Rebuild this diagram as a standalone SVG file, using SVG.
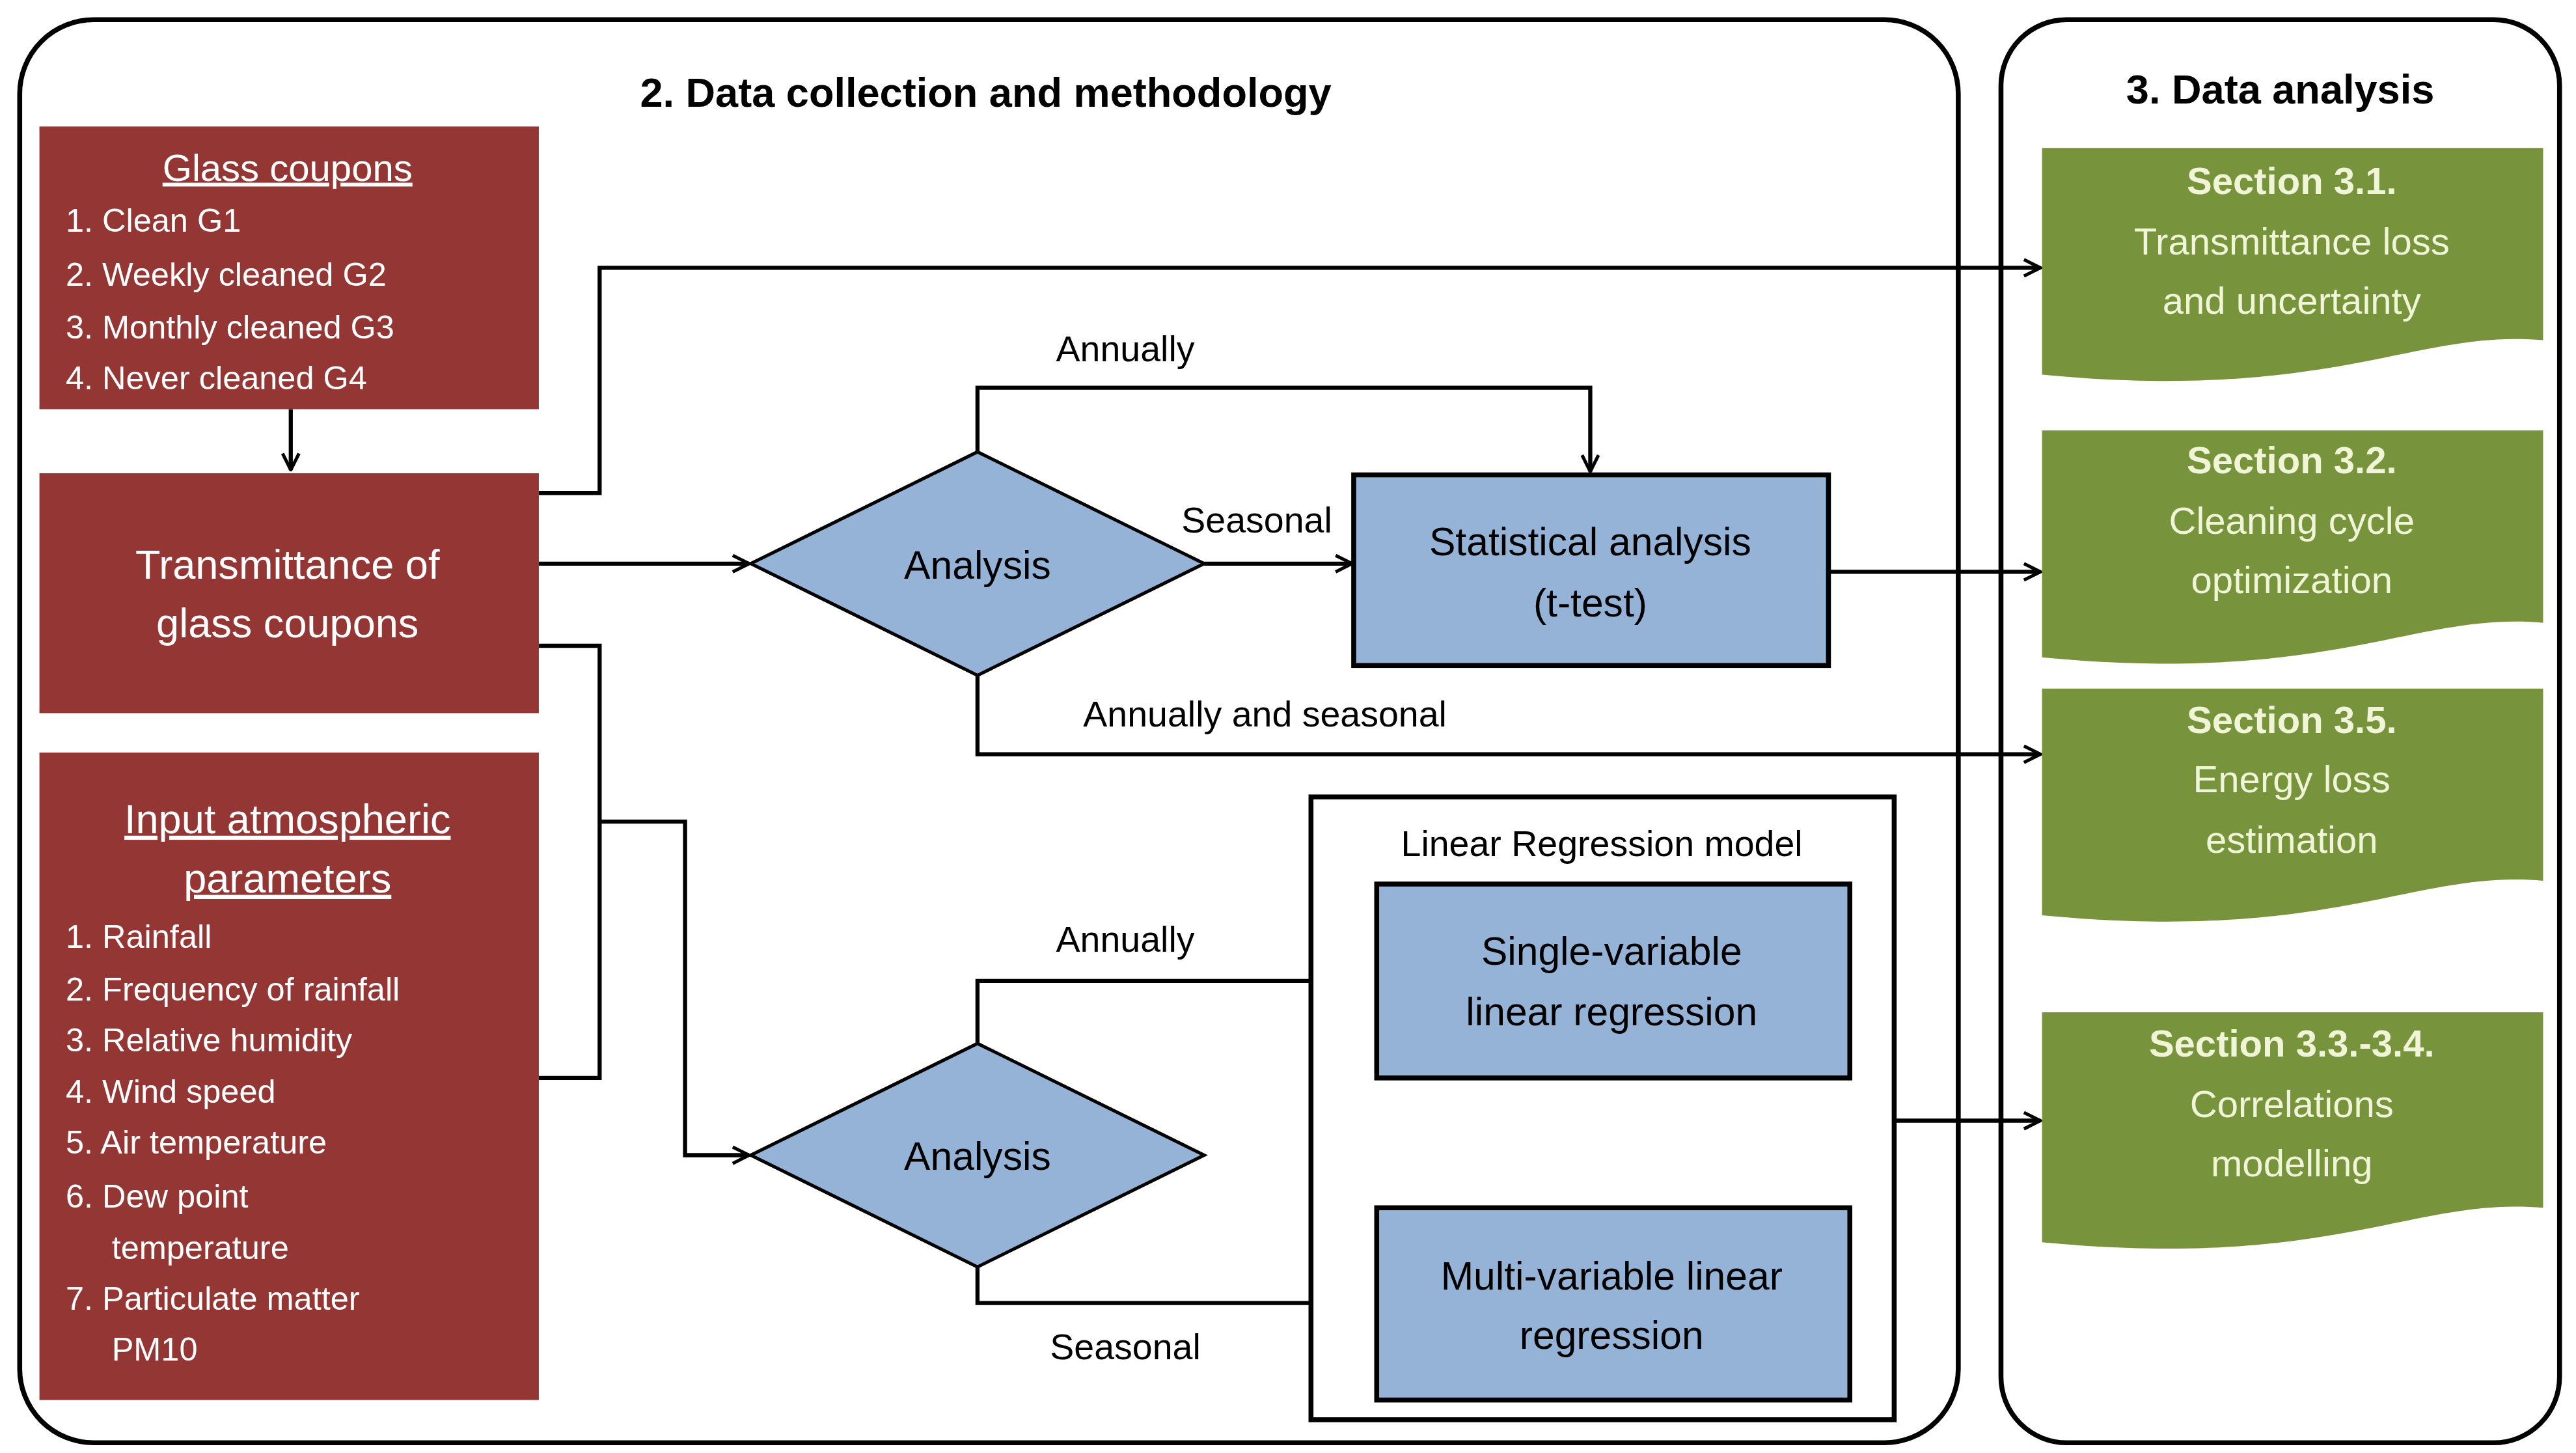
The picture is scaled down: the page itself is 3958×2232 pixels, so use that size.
<svg xmlns="http://www.w3.org/2000/svg" width="3958" height="2232" viewBox="0 0 3958 2232">
<defs>
<marker id="a" viewBox="0 0 12 12" refX="11" refY="6" markerWidth="12" markerHeight="12" markerUnits="userSpaceOnUse" orient="auto"><polyline points="1,1 11,6 1,11" fill="none" stroke="#000" stroke-width="2"/></marker>
<style>
text{font-family:"Liberation Sans",Arial,sans-serif}
.t{font-size:22px;fill:#000;text-anchor:middle}
.h{font-size:25px;font-weight:bold;fill:#000;text-anchor:middle}
.r{fill:#943634}
.w{fill:#fff;font-size:20px}
.wc{fill:#fff;font-size:23px;text-anchor:middle}
.b{fill:#95B3D7;stroke:#000;stroke-width:3}
.d{fill:#95B3D7;stroke:#000;stroke-width:2}
.g{fill:#77933C}
.gt{fill:#F0F5D8;font-size:23px;text-anchor:middle}
.gb{fill:#F0F5D8;font-size:23px;font-weight:bold;text-anchor:middle}
.c{fill:none;stroke:#000;stroke-width:2.5}
</style>
</defs>
<rect width="3958" height="2232" fill="#fff"/>
<g transform="scale(2.5242)">
<g id="frames">
<rect x="12" y="12" width="1180" height="866" rx="45" fill="none" stroke="#000" stroke-width="3"/>
<rect x="1218" y="12" width="340" height="866" rx="40" fill="none" stroke="#000" stroke-width="3"/>
<text class="h" x="600" y="65">2. Data collection and methodology</text>
<text class="h" x="1388" y="63">3. Data analysis</text>
</g>
<g id="connectors">
<path class="c" d="M177,249 V286" marker-end="url(#a)"/>
<path class="c" d="M328,300 H365 V163 H1242" marker-end="url(#a)"/>
<path class="c" d="M328,343 H456" marker-end="url(#a)"/>
<path class="c" d="M595,275 V236 H968 V287" marker-end="url(#a)"/>
<path class="c" d="M733,343 H823" marker-end="url(#a)"/>
<path class="c" d="M1113,348 H1242" marker-end="url(#a)"/>
<path class="c" d="M595,411 V459 H1242" marker-end="url(#a)"/>
<path class="c" d="M328,393 H365 V656 H328"/>
<path class="c" d="M365,500 H417 V703 H456" marker-end="url(#a)"/>
<path class="c" d="M595,635 V597 H836" marker-end="url(#a)"/>
<path class="c" d="M595,771 V793 H836" marker-end="url(#a)"/>
<path class="c" d="M1153,682 H1242" marker-end="url(#a)"/>
<text class="t" x="685" y="220">Annually</text>
<text class="t" x="765" y="324">Seasonal</text>
<text class="t" x="770" y="442">Annually and seasonal</text>
<text class="t" x="685" y="579">Annually</text>
<text class="t" x="685" y="827">Seasonal</text>
</g>
<g id="glass">
<rect class="r" x="24" y="77" width="304" height="172"/>
<text class="wc" x="175" y="110" text-decoration="underline">Glass coupons</text>
<text class="w" x="40" y="141">1. Clean G1</text>
<text class="w" x="40" y="174">2. Weekly cleaned G2</text>
<text class="w" x="40" y="206">3. Monthly cleaned G3</text>
<text class="w" x="40" y="237">4. Never cleaned G4</text>
</g>
<g id="transmittance">
<rect class="r" x="24" y="288" width="304" height="146"/>
<text class="wc" x="175" y="352" style="font-size:25px">Transmittance of</text>
<text class="wc" x="175" y="388" style="font-size:25px">glass coupons</text>
</g>
<g id="input">
<rect class="r" x="24" y="458" width="304" height="394"/>
<text class="wc" x="175" y="507" style="font-size:25px" text-decoration="underline">Input atmospheric</text>
<text class="wc" x="175" y="543" style="font-size:25px" text-decoration="underline">parameters</text>
<text class="w" x="40" y="577">1. Rainfall</text>
<text class="w" x="40" y="609">2. Frequency of rainfall</text>
<text class="w" x="40" y="640">3. Relative humidity</text>
<text class="w" x="40" y="671">4. Wind speed</text>
<text class="w" x="40" y="702">5. Air temperature</text>
<text class="w" x="40" y="735">6. Dew point</text>
<text class="w" x="68" y="766">temperature</text>
<text class="w" x="40" y="797">7. Particulate matter</text>
<text class="w" x="68" y="828">PM10</text>
</g>
<g id="analysis1">
<polygon class="d" points="457,343 595,275 733,343 595,411"/>
<text class="t" x="595" y="352" style="font-size:24px">Analysis</text>
</g>
<g id="stats">
<rect class="b" x="824" y="289" width="289" height="116"/>
<text class="t" x="968" y="338" style="font-size:24px">Statistical analysis</text>
<text class="t" x="968" y="375" style="font-size:24px">(t-test)</text>
</g>
<g id="analysis2">
<polygon class="d" points="457,703 595,635 733,703 595,771"/>
<text class="t" x="595" y="712" style="font-size:24px">Analysis</text>
</g>
<g id="lr">
<rect x="798" y="485" width="355" height="379" fill="#fff" stroke="#000" stroke-width="3"/>
<text class="t" x="975" y="521">Linear Regression model</text>
</g>
<g id="single">
<rect class="b" x="838" y="538" width="288" height="118"/>
<text class="t" x="981" y="587" style="font-size:24px">Single-variable</text>
<text class="t" x="981" y="624" style="font-size:24px">linear regression</text>
</g>
<g id="multi">
<rect class="b" x="838" y="735" width="288" height="117"/>
<text class="t" x="981" y="785" style="font-size:24px">Multi-variable linear</text>
<text class="t" x="981" y="821" style="font-size:24px">regression</text>
</g>
<g id="s31">
<path class="g" d="M1243,90 H1548 V207 C1470,200 1420,245 1243,228 Z"/>
<text class="gb" x="1395" y="118">Section 3.1.</text>
<text class="gt" x="1395" y="155">Transmittance loss</text>
<text class="gt" x="1395" y="191">and uncertainty</text>
</g>
<g id="s32">
<path class="g" d="M1243,262 H1548 V379 C1470,372 1420,417 1243,400 Z"/>
<text class="gb" x="1395" y="288">Section 3.2.</text>
<text class="gt" x="1395" y="325">Cleaning cycle</text>
<text class="gt" x="1395" y="361">optimization</text>
</g>
<g id="s35">
<path class="g" d="M1243,419 H1548 V536 C1470,529 1420,574 1243,557 Z"/>
<text class="gb" x="1395" y="446">Section 3.5.</text>
<text class="gt" x="1395" y="482">Energy loss</text>
<text class="gt" x="1395" y="519">estimation</text>
</g>
<g id="s33">
<path class="g" d="M1243,616 H1548 V735 C1470,728 1420,773 1243,756 Z"/>
<text class="gb" x="1395" y="643">Section 3.3.-3.4.</text>
<text class="gt" x="1395" y="680">Correlations</text>
<text class="gt" x="1395" y="716">modelling</text>
</g>
</g>
</svg>
